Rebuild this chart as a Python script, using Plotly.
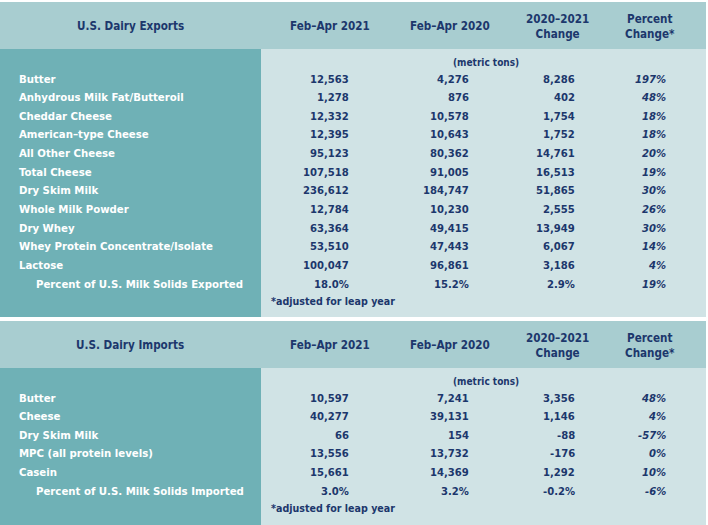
import plotly.graph_objects as go

# ---------------- data ----------------
exp_items = ["Butter", "Anhydrous Milk Fat/Butteroil", "Cheddar Cheese", "American–type Cheese",
             "All Other Cheese", "Total Cheese", "Dry Skim Milk", "Whole Milk Powder", "Dry Whey",
             "Whey Protein Concentrate/Isolate", "Lactose", "Percent of U.S. Milk Solids Exported"]
exp_2021 = ["12,563", "1,278", "12,332", "12,395", "95,123", "107,518", "236,612", "12,784",
            "63,364", "53,510", "100,047", "18.0%"]
exp_2020 = ["4,276", "876", "10,578", "10,643", "80,362", "91,005", "184,747", "10,230",
            "49,415", "47,443", "96,861", "15.2%"]
exp_change = ["8,286", "402", "1,754", "1,752", "14,761", "16,513", "51,865", "2,555",
              "13,949", "6,067", "3,186", "2.9%"]
exp_pct = ["197%", "48%", "18%", "18%", "20%", "19%", "30%", "26%", "30%", "14%", "4%", "19%"]

imp_items = ["Butter", "Cheese", "Dry Skim Milk", "MPC (all protein levels)", "Casein",
             "Percent of U.S. Milk Solids Imported"]
imp_2021 = ["10,597", "40,277", "66", "13,556", "15,661", "3.0%"]
imp_2020 = ["7,241", "39,131", "154", "13,732", "14,369", "3.2%"]
imp_change = ["3,356", "1,146", "-88", "-176", "1,292", "-0.2%"]
imp_pct = ["48%", "4%", "-57%", "0%", "10%", "-6%"]

col_headers = ["Feb–Apr 2021", "Feb–Apr 2020", "2020–2021<br>Change", "Percent<br>Change*"]
unit_label = "(metric tons)"
footnote = "*adjusted for leap year"

# ---------------- style ----------------
W, H = 708, 525
FONT = "DejaVu Sans Condensed"
NAVY = "#1c376c"
HEAD_BG = "#a8cdd0"
LEFT_BG = "#6fb1b6"
RIGHT_BG = "#d0e3e5"
FS_LABEL = 11.3
FS_NUM = 11.2
FS_HEAD = 11.6

fig = go.Figure()
fig.add_trace(go.Scatter(x=[0, W], y=[0, H], mode="markers", marker=dict(opacity=0),
                         hoverinfo="skip", showlegend=False))

shapes = []
annos = []

def rect(x0, y0, x1, y1, color):
    shapes.append(dict(type="rect", xref="x", yref="y", x0=x0, y0=y0, x1=x1, y1=y1,
                       fillcolor=color, line=dict(width=0), layer="below"))

def txt(x, y, s, anchor, color=NAVY, size=FS_NUM, italic=False):
    t = "<b>" + s + "</b>"
    if italic:
        t = "<i>" + t + "</i>"
    annos.append(dict(x=x, y=y, xref="x", yref="y", text=t, showarrow=False,
                      xanchor=anchor, yanchor="middle", align="center",
                      borderpad=0, font=dict(family=FONT, size=size, color=color)))

col_right = [350, 470, 576, 667]
head_center = [330, 450, 557, 650]
LEFT_W = 261

def section(title, top, head_h, body_bottom, items, cols, first_row, step, unit_y):
    rect(0, top, W - 2, top + head_h, HEAD_BG)
    rect(0, top + head_h, LEFT_W, body_bottom, LEFT_BG)
    rect(LEFT_W, top + head_h, W - 2, body_bottom, RIGHT_BG)
    hc = top + head_h / 2 + 0.5
    txt(130, hc, title, "center", size=FS_HEAD)
    for hx, h in zip(head_center, col_headers):
        txt(hx, hc, h, "center", size=FS_HEAD)
    txt(486, unit_y, unit_label, "center", size=10)
    n = len(items)
    for i, name in enumerate(items):
        y = first_row + i * step
        last = (i == n - 1)
        txt(35 if last else 18, y, name, "left", color="white", size=FS_LABEL)
        for c, (xr, col) in enumerate(zip(col_right, cols)):
            txt(xr, y, col[i], "right", italic=(c == 3))
    txt(270, first_row + n * step - 1.5, footnote, "left", size=10.6)

section("U.S. Dairy Exports", 2, 47, 317, exp_items,
        [exp_2021, exp_2020, exp_change, exp_pct], 79, 18.64, 62)
section("U.S. Dairy Imports", 321, 47, 525, imp_items,
        [imp_2021, imp_2020, imp_change, imp_pct], 398, 18.6, 381)

fig.update_layout(
    width=W, height=H, margin=dict(l=0, r=0, t=0, b=0),
    paper_bgcolor="white", plot_bgcolor="white",
    xaxis=dict(range=[0, W], visible=False, fixedrange=True),
    yaxis=dict(range=[H, 0], visible=False, fixedrange=True),
    shapes=shapes, annotations=annos, showlegend=False,
)
fig.write_html("out.html", config={"displayModeBar": False},
               post_script="document.body.style.margin='0';document.body.style.padding='0';")
